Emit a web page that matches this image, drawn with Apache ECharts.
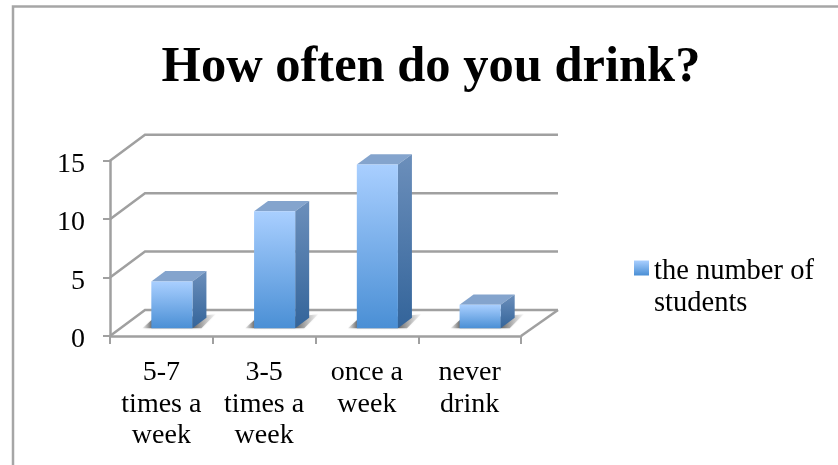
<!DOCTYPE html>
<html><head><meta charset="utf-8">
<style>html,body{margin:0;padding:0;background:#fff}#c{width:838px;height:465px}</style>
<script src="https://cdn.jsdelivr.net/npm/echarts@6/dist/echarts.min.js"></script>
</head><body><div id="c"></div>
<script>
const titleText = 'How often do you drink?';
const categories = ['5-7\ntimes a\nweek', '3-5\ntimes a\nweek', 'once a\nweek', 'never\ndrink'];
const seriesName = 'the number of\nstudents';
const students = [4, 10, 14, 2];
const yTicks = [0, 5, 10, 15];

const FONT = '"Liberation Serif", serif';
const GREY = '#a0a0a0';
const DX = 35, DY = 26;          // full depth of the floor in pixels
const F0 = 0.3, F1 = 0.7;        // bar front/back position in the depth
const BAR = 0.4;                 // bar width as a share of a category

const vGrad = (a, b) => ({type:'linear',x:0,y:0,x2:0,y2:1,colorStops:[{offset:0,color:a},{offset:1,color:b}]});
const frontFill = () => vGrad('#a9cfff', '#4a8fd5');
// legend swatch: its path box is taller than the swatch, so the stops end at the swatch's foot
const legendFill = {type:'linear',x:0,y:0,x2:0,y2:1,colorStops:[{offset:0,color:'#a9cfff'},{offset:0.27,color:'#4a8fd5'},{offset:1,color:'#4a8fd5'}]};

const chart = echarts.init(document.getElementById('c'), null, {renderer:'canvas'});
chart.setOption({
  animation:false,
  backgroundColor:'#fff',
  title:{text:titleText,left:426,textAlign:'center',top:37,
    textStyle:{fontFamily:FONT,fontWeight:'bold',fontSize:50.5,color:'#000'}},
  grid:{left:110,top:160.7,width:411,height:175.3,containLabel:false},
  legend:{data:[seriesName],left:629,top:251,orient:'vertical',
    icon:'path://M0 0H15V15H0Z M0 55H0.01V55.01H0Z',itemWidth:15,itemHeight:55,itemGap:0,
    selectedMode:false,
    itemStyle:{color:legendFill},
    textStyle:{fontFamily:FONT,fontSize:28.5,color:'#000',lineHeight:32}},
  xAxis:{type:'category',data:categories,boundaryGap:true,
    axisLine:{lineStyle:{color:GREY,width:2.5}},
    axisTick:{show:true,length:8,alignWithLabel:false,lineStyle:{color:GREY,width:2}},
    axisLabel:{interval:0,margin:21,fontFamily:FONT,fontSize:28,color:'#000',lineHeight:31.5},
    splitLine:{show:false}},
  yAxis:{type:'value',min:0,max:15,interval:5,
    axisLine:{show:true,lineStyle:{color:GREY,width:2.5}},
    axisTick:{show:true,length:7,lineStyle:{color:GREY,width:2}},
    axisLabel:{margin:25,fontFamily:FONT,fontSize:28,color:'#000',verticalAlign:'top',lineHeight:8},
    splitLine:{show:false}},
  series:[
    {type:'custom',name:'wall',silent:true,z:1,
     data:yTicks.map(v=>[0,v]),encode:{x:0,y:1},
     renderItem(params,api){
       const y=api.coord([0,api.value(1)])[1], g=params.coordSys, L=g.x, R=g.x+g.width;
       const style={stroke:GREY,lineWidth:2.5,fill:null};
       const kids=[{type:'polyline',shape:{points:[[L,y],[L+DX,y-DY],[R+DX+2,y-DY]]},style}];
       if(api.value(1)===0) kids.push({type:'line',shape:{x1:R,y1:y,x2:R+DX+2,y2:y-DY},style});
       return {type:'group',children:kids};
     }},
    {type:'custom',name:seriesName,silent:true,z:3,
     data:students.map((v,i)=>[i,v]),encode:{x:0,y:1},
     renderItem(params,api){
       const c=api.coord([api.value(0),0]), t=api.coord([api.value(0),api.value(1)]);
       const w=api.size([1,0])[0]*BAR;
       const x0=c[0]-w/2+DX*F0, x1=x0+w, yb=c[1]-DY*F0, yt=t[1]-DY*F0;
       const ddx=DX*(F1-F0), ddy=DY*(F1-F0);
       return {type:'group',children:[
         {type:'polygon',shape:{points:[[x0-9,yb],[x0,yb-8],[x1+14,yb-13],[x1+23,yb-14],[x1+9,yb]]},
          style:{fill:{type:'linear',x:0,y:0,x2:1,y2:0,colorStops:[{offset:0,color:'rgba(130,130,130,0.1)'},{offset:0.13,color:'rgba(90,90,90,0.85)'},{offset:0.7,color:'rgba(90,90,90,0.85)'},{offset:1,color:'rgba(170,170,170,0.1)'}]},shadowBlur:2,shadowColor:'rgba(130,130,130,0.4)'}},
         {type:'polygon',shape:{points:[[x0,yt],[x1,yt],[x1+ddx,yt-ddy],[x0+ddx,yt-ddy]]},style:{fill:'#84a4cd'}},
         {type:'polygon',shape:{points:[[x1,yt],[x1+ddx,yt-ddy],[x1+ddx,yb-ddy],[x1,yb]]},style:{fill:vGrad('#6c8fbb','#33649a')}},
         {type:'rect',shape:{x:x0,y:yt,width:w,height:yb-yt},style:{fill:frontFill()}}
       ]};
     }}
  ],
  graphic:[
    {type:'polyline',silent:true,z:-1,shape:{points:[[13,465],[13,6.5],[838,6.5]]},style:{stroke:'#a6a6a6',lineWidth:2.5,fill:null}}
  ]
});
</script></body></html>
